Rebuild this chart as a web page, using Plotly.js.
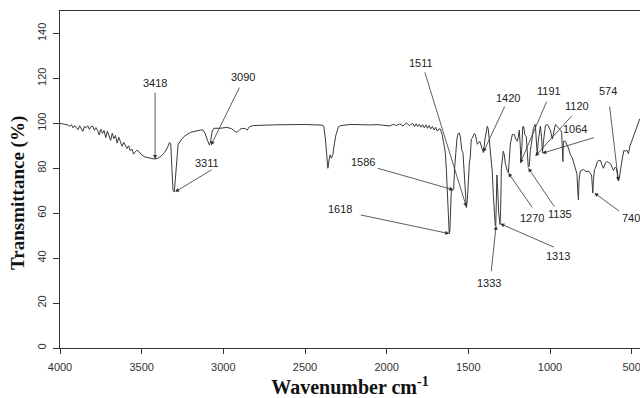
<!DOCTYPE html>
<html>
<head>
<meta charset="utf-8">
<script src="https://cdn.plot.ly/plotly-3.0.1.min.js"></script>
<style>html,body{margin:0;padding:0;background:#fff;}#chart{width:640px;height:398px;}</style>
</head>
<body>
<div id="chart"></div>
<script>
// FTIR spectrum
const wavenumber = [
4000,3980,3960,3950,3940,3930,3920,3910,3900,3890,3880,3870,3860,3850,3840,3830,3820,3810,3800,3790,
3780,3770,3760,3750,3740,3730,3720,3710,3700,3690,3680,3670,3660,3650,3640,3630,3620,3610,3600,3590,
3580,3570,3560,3550,3540,3530,3520,3510,3500,3480,3460,3440,3420,3400,3380,3360,3340,3330,3322,3315,
3308,3300,3293,3285,3277,3255,3234,3200,3173,3140,3124,3112,3100,3085,3078,3068,3058,3020,2977,2950,
2930,2916,2900,2885,2865,2854,2840,2817,2700,2600,2500,2400,2385,2375,2368,2360,2352,2346,2338,2330,
2320,2310,2295,2280,2223,2150,2100,2050,2000,1980,1960,1940,1920,1900,1880,1860,1840,1830,1820,1810,
1800,1790,1780,1770,1760,1750,1740,1730,1720,1710,1700,1690,1680,1672,1660,1648,1641,1635,1628,1622,
1617,1613,1609,1604,1596,1590,1584,1578,1570,1562,1555,1549,1540,1533,1525,1518,1512,1506,1500,1494,
1488,1482,1476,1463,1457,1445,1430,1420,1408,1398,1390,1384,1378,1370,1362,1353,1347,1340,1335,1332,
1328,1325,1320,1314,1306,1302,1298,1292,1286,1280,1273,1262,1255,1249,1243,1231,1218,1210,1200,1194,
1188,1182,1178,1172,1167,1161,1154,1145,1138,1133,1127,1120,1108,1102,1090,1084,1078,1072,1059,1052,
1046,1040,1028,1016,998,986,976,967,949,935,929,925,921,918,906,887,875,863,844,835,
830,826,822,818,814,795,780,765,750,745,741,738,734,728,722,710,700,691,682,673,
660,649,640,630,620,612,600,593,587,581,575,569,562,556,547,538,529,520,510,495,
485,477,465,450
];
const transmittance = [
100.0,99.8,99.5,99.2,98.6,99.4,98.0,99.0,98.2,97.2,98.9,97.9,96.4,98.7,98.0,98.9,97.3,98.5,98.8,96.9,
98.1,97.0,94.8,97.4,95.5,96.8,93.6,96.5,94.8,92.4,95.6,93.2,94.6,91.2,93.8,92.0,89.8,91.6,90.5,88.8,
90.0,87.8,88.6,86.3,87.2,88.0,87.6,86.5,86.0,85.0,84.6,84.5,84.1,84.5,85.5,87.0,89.5,91.5,91.0,80.0,
70.0,69.5,75.0,84.0,90.5,93.0,94.5,96.0,96.5,97.0,97.0,95.6,93.0,90.3,92.0,96.5,97.8,97.8,98.2,97.6,
96.5,96.0,97.2,97.8,97.6,97.0,98.5,99.0,99.3,99.5,99.5,99.2,98.8,93.0,86.0,80.0,84.0,86.0,84.5,86.0,
91.0,95.0,98.5,99.0,99.5,99.3,99.3,99.4,99.2,98.8,99.6,99.0,99.8,98.8,100.2,99.0,100.0,98.5,99.8,98.6,
99.6,98.3,99.4,98.0,99.3,97.8,99.0,97.5,98.6,97.0,98.2,96.5,97.5,97.5,95.0,90.0,87.0,80.0,68.0,58.0,
50.9,52.0,64.0,70.5,70.2,70.8,80.0,88.0,93.0,95.6,95.6,94.0,88.0,87.0,78.0,68.0,62.5,66.0,75.0,82.0,
85.0,93.0,93.4,95.5,95.0,90.7,92.0,90.0,87.0,93.0,97.0,98.7,97.5,92.0,86.0,78.0,68.0,58.0,54.4,54.5,
68.0,77.0,70.0,60.0,55.0,62.0,80.0,84.0,87.6,86.0,82.0,79.0,78.0,84.0,90.7,95.0,95.0,93.0,92.0,94.0,
97.0,90.0,82.5,90.0,98.5,98.5,95.0,94.0,86.0,80.5,81.0,88.0,94.0,97.8,99.5,92.0,86.0,92.0,98.7,94.0,
87.0,92.0,99.0,99.5,97.0,93.0,97.0,99.5,98.0,97.0,96.0,84.0,83.0,92.0,92.0,89.0,86.0,84.5,80.0,77.5,
70.0,66.0,75.0,78.0,78.8,79.5,78.5,78.8,77.5,76.5,70.0,69.0,75.0,79.5,80.0,83.0,83.5,83.5,81.5,80.0,
82.5,83.0,82.5,82.0,80.5,79.0,80.5,80.0,77.0,74.3,76.0,79.0,83.0,85.0,88.0,87.6,88.0,86.5,90.0,93.0,
95.0,96.5,99.5,102.0
];

// peak labels and the point of the curve each arrow points to
const peakLabels = ["3418","3311","3090","1511","1420","1191","1120","1064","574","1586","1618","1270","1135","740","1313","1333"];
const peakWavenumber = [3418,3295,3075,1512,1408,1182,1090,1047,581,1592,1617,1255,1133,728,1304,1330];
const peakTransmittance = [84.1,69.5,90.3,62.8,87.2,82.3,85.4,86.7,74.3,70.4,50.9,77.9,80.1,69.0,55.3,54.4];

// layout of the callouts (pixel offsets from the arrow tip)
const arrowTail = [[0,-68],[38,-23],[29,-59],[-42,-136],[22,-47],[27,-63],[38,-42],[53,-16],[-9,-76],[-77,-22],[-90,-19],[25,36],[27,40],[26,19],[55,24],[-5,47]];
const labelShift = [[0,76],[32,29],[32,68],[-45,144],[25,54],[29,72],[42,50],[33,24],[-10,90],[-90,28],[-109,25],[24,-45],[32,-46],[37,-25],[58,-32],[-7,-57]];

const annotations = [];
peakLabels.forEach((lab, i) => {
  annotations.push({
    x: peakWavenumber[i], y: peakTransmittance[i], xref: 'x', yref: 'y',
    text: '', showarrow: true, ax: arrowTail[i][0], ay: arrowTail[i][1],
    arrowhead: 2, arrowsize: 1, arrowwidth: 0.8, arrowcolor: '#333', standoff: 0, startstandoff: 0
  });
  annotations.push({
    x: peakWavenumber[i], y: peakTransmittance[i], xref: 'x', yref: 'y',
    text: lab, showarrow: false, xshift: labelShift[i][0], yshift: labelShift[i][1],
    xanchor: 'center', yanchor: 'middle',
    font: {family: 'Liberation Sans, Arial, sans-serif', size: 11, color: '#222'}
  });
});
annotations.push({
  text: '<b>Transmittance (%)</b>', xref: 'paper', yref: 'paper', x: 0, y: 0.46,
  xshift: -42, xanchor: 'center', yanchor: 'middle', textangle: -90, showarrow: false,
  font: {family: 'Liberation Serif, Times New Roman, serif', size: 19, color: '#111'}
});

const trace = {
  x: wavenumber, y: transmittance, type: 'scatter', mode: 'lines',
  line: {color: '#3a3a3a', width: 1}, hoverinfo: 'skip'
};

const layout = {
  width: 640, height: 398,
  margin: {l: 60, r: 0, t: 11, b: 50, pad: 0},
  paper_bgcolor: '#fff', plot_bgcolor: '#fff',
  showlegend: false,
  font: {family: 'Liberation Sans, Arial, sans-serif', size: 11, color: '#333'},
  xaxis: {
    range: [4000, 449], tickmode: 'array',
    tickvals: [4000,3500,3000,2500,2000,1500,1000,500],
    ticktext: ['4000','3500','3000','2500','2000','1500','1000','500'],
    showgrid: false, zeroline: false, showline: true, mirror: true,
    linecolor: '#333', linewidth: 1.2, ticks: 'outside', ticklen: 5, tickwidth: 1, tickcolor: '#333',
    ticklabelstandoff: 4, ticklabeloverflow: 'allow',
    tickfont: {size: 11, color: '#333'},
    title: {text: '<b>Wavenumber cm<sup>-1</sup></b>', standoff: 9,
            font: {family: 'Liberation Serif, Times New Roman, serif', size: 20, color: '#111'}}
  },
  yaxis: {
    range: [0, 150], tickmode: 'array',
    tickvals: [0,20,40,60,80,100,120,140],
    ticktext: ['0','20','40','60','80','100','120','140'],
    tickangle: -90,
    showgrid: false, zeroline: false, showline: true,
    linecolor: '#333', linewidth: 1.2, ticks: 'outside', ticklen: 6, tickwidth: 1, tickcolor: '#333',
    ticklabelstandoff: 2,
    tickfont: {size: 11, color: '#333'}
  },
  annotations: annotations
};

Plotly.newPlot('chart', [trace], layout, {displayModeBar: false, staticPlot: true});
</script>
</body>
</html>
